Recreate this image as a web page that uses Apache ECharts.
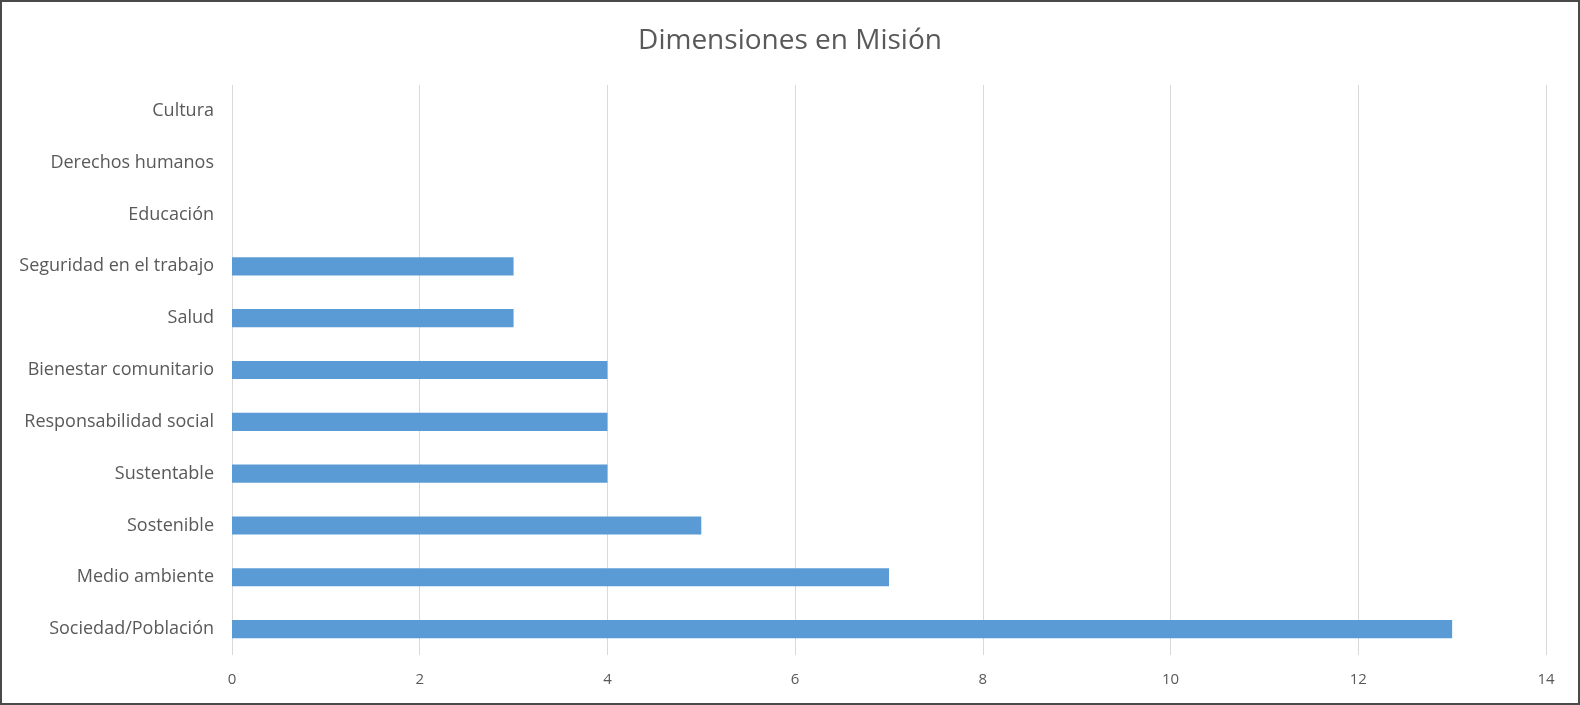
<!DOCTYPE html>
<html>
<head>
<meta charset="utf-8">
<script src="https://cdn.jsdelivr.net/npm/echarts@6/dist/echarts.min.js"></script>
<style>
  html, body { margin: 0; padding: 0; background: #fff; }
  #chart {
    width: 1580px;
    height: 705px;
    box-sizing: border-box;
    border: 2px solid #4a4a4a;
  }
</style>
</head>
<body>
<div id="chart"></div>
<script>
// categories bottom to top (ECharts draws the first category at the bottom)
const categories = [
  "Sociedad/Población",
  "Medio ambiente",
  "Sostenible",
  "Sustentable",
  "Responsabilidad social",
  "Bienestar comunitario",
  "Salud",
  "Seguridad en el trabajo",
  "Educación",
  "Derechos humanos",
  "Cultura"
];
const values = [13, 7, 5, 4, 4, 4, 3, 3, 0, 0, 0];
const titleText = "Dimensiones en Misión";

const chart = echarts.init(document.getElementById("chart"));
const option = {
  animation: false,
  title: {
    text: titleText,
    left: "center",
    top: 20,
    textStyle: {
      fontFamily: "Open Sans",
      fontSize: 28,
      fontWeight: "normal",
      color: "#595959"
    }
  },
  grid: {
    left: 230,
    right: 32,
    top: 83,
    bottom: 48,
    containLabel: false
  },
  xAxis: {
    type: "value",
    min: 0,
    max: 14,
    interval: 2,
    axisLine: { show: false },
    axisTick: { show: false },
    axisLabel: {
      margin: 17,
      fontFamily: "Open Sans",
      fontSize: 15,
      color: "#595959"
    },
    splitLine: {
      show: true,
      lineStyle: { color: "#d9d9d9", width: 1 }
    }
  },
  yAxis: {
    type: "category",
    data: categories,
    axisLine: { show: false },
    axisTick: { show: false },
    axisLabel: {
      margin: 18,
      fontFamily: "Open Sans",
      fontSize: 18,
      color: "#595959"
    }
  },
  series: [
    {
      type: "bar",
      data: values,
      barWidth: "35%",
      itemStyle: { color: "#5b9bd5" }
    }
  ]
};
chart.setOption(option);
</script>
</body>
</html>
